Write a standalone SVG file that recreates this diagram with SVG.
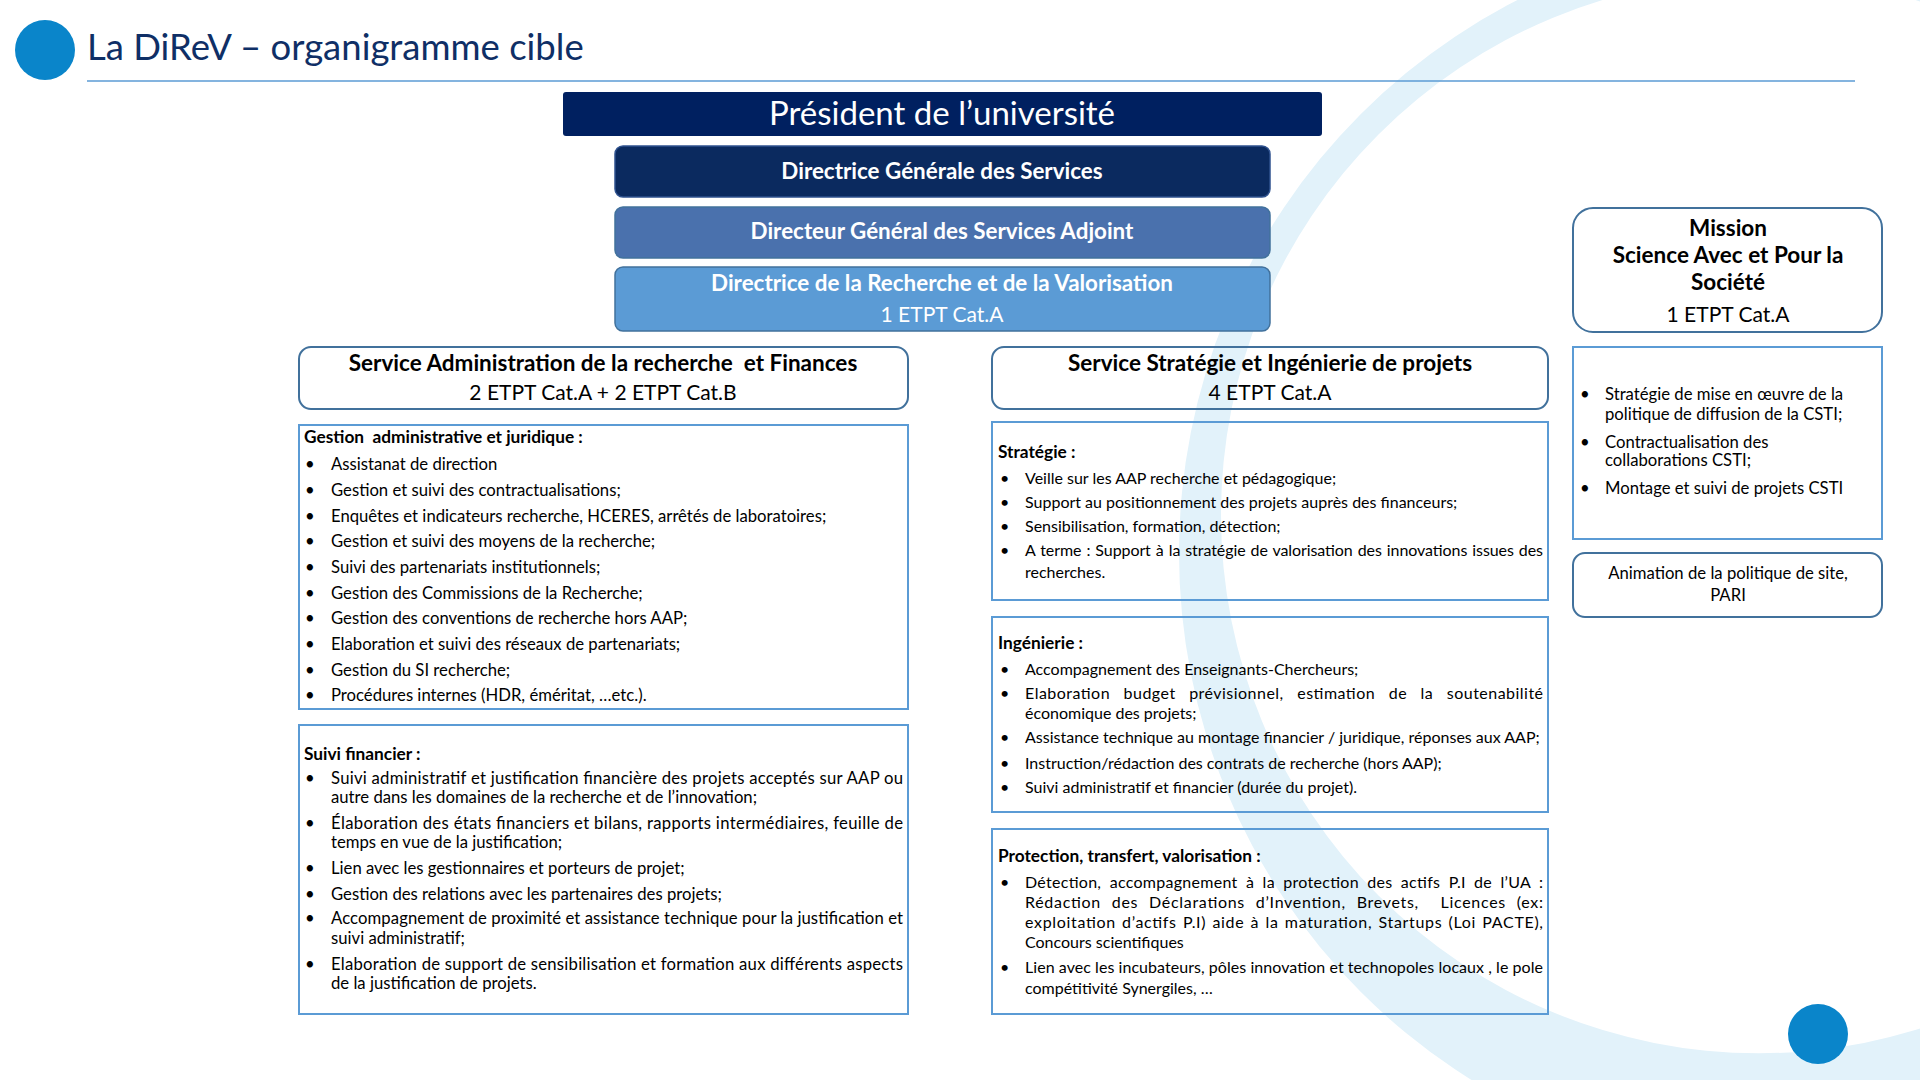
<svg xmlns="http://www.w3.org/2000/svg" width="1920" height="1080" viewBox="0 0 1920 1080">
<style>
text{font-family:Lato,"Liberation Sans",sans-serif;white-space:pre;}
.t{font-size:16.7px;fill:#000;}
.tm{font-size:16px;fill:#000;}
.bh{font-size:17.3px;font-weight:bold;fill:#000;}
.c{text-anchor:middle;}
.hw{font-size:22.4px;font-weight:bold;fill:#fff;text-anchor:middle;}
.hk{font-size:22.5px;font-weight:bold;fill:#000;text-anchor:middle;}
.rk{font-size:21px;fill:#000;text-anchor:middle;}
.box{fill:none;stroke:#5b9bd5;stroke-width:2;}
.rbox{fill:none;stroke:#41719c;stroke-width:2;}
</style>
<rect width="1920" height="1080" fill="#fff"/>
<g id="background">
<path fill="#e2f2fa" fill-rule="evenodd" d="M1179,553 a621,621 0 1,0 1242,0 a621,621 0 1,0 -1242,0 Z M1221,515 a538,538 0 1,0 1076,0 a538,538 0 1,0 -1076,0 Z"/>
<circle cx="1818" cy="1034" r="30" fill="#0a85ca"/>
</g>
<g id="title">
<circle cx="45" cy="50" r="30" fill="#0a85ca"/>
<text x="87" y="60" font-size="36.5" fill="#0f2f66">La DiReV – organigramme cible</text>
<line x1="87" y1="81" x2="1855" y2="81" stroke="#5b9bd5" stroke-width="1.5"/>
</g>
<g id="connectors"/>
<g id="president">
<rect x="563" y="92" width="759" height="44" rx="3" fill="#002060"/>
<text x="942" y="125" font-size="33" fill="#fff" text-anchor="middle">Président de l’université</text>
</g>
<g id="dgs">
<rect x="615" y="146" width="655" height="51" rx="8" fill="#0b2a5f" stroke="#2f528f" stroke-width="1.5"/>
<text x="942" y="179" class="hw">Directrice Générale des Services</text>
</g>
<g id="dgsa">
<rect x="615" y="207" width="655" height="51" rx="8" fill="#4a71ad" stroke="#41719c" stroke-width="1.5"/>
<text x="942" y="239" class="hw">Directeur Général des Services Adjoint</text>
</g>
<g id="drv">
<rect x="615" y="267" width="655" height="64" rx="8" fill="#5b9bd5" stroke="#41719c" stroke-width="1.5"/>
<text x="942" y="291" class="hw">Directrice de la Recherche et de la Valorisation</text>
<text x="942" y="322" font-size="21" fill="#fff" text-anchor="middle">1 ETPT Cat.A</text>
</g>
<g id="service-admin">
<rect x="299" y="347" width="609" height="62" rx="12" class="rbox"/>
<text x="603" y="371" class="hk">Service Administration de la recherche  et Finances</text>
<text x="603" y="400" class="rk">2 ETPT Cat.A + 2 ETPT Cat.B</text>
</g>
<g id="gestion">
<rect x="299" y="425" width="609" height="284" class="box"/>
<text x="304" y="443" class="bh">Gestion  administrative et juridique :</text>
<g class="t">
<text x="305" y="470">•</text><text x="331" y="470">Assistanat de direction</text>
<text x="305" y="496">•</text><text x="331" y="496">Gestion et suivi des contractualisations;</text>
<text x="305" y="522">•</text><text x="331" y="522">Enquêtes et indicateurs recherche, HCERES, arrêtés de laboratoires;</text>
<text x="305" y="547">•</text><text x="331" y="547">Gestion et suivi des moyens de la recherche;</text>
<text x="305" y="573">•</text><text x="331" y="573">Suivi des partenariats institutionnels;</text>
<text x="305" y="599">•</text><text x="331" y="599">Gestion des Commissions de la Recherche;</text>
<text x="305" y="624">•</text><text x="331" y="624">Gestion des conventions de recherche hors AAP;</text>
<text x="305" y="650">•</text><text x="331" y="650">Elaboration et suivi des réseaux de partenariats;</text>
<text x="305" y="676">•</text><text x="331" y="676">Gestion du SI recherche;</text>
<text x="305" y="701">•</text><text x="331" y="701">Procédures internes (HDR, éméritat, …etc.).</text>
</g>
</g>
<g id="suivi-financier">
<rect x="299" y="725" width="609" height="289" class="box"/>
<text x="304" y="760" class="bh">Suivi financier :</text>
<g class="t">
<text x="305" y="784">•</text><text x="331" y="784" textLength="572" lengthAdjust="spacing">Suivi administratif et justification financière des projets acceptés sur AAP ou</text>
<text x="331" y="803">autre dans les domaines de la recherche et de l’innovation;</text>
<text x="305" y="829">•</text><text x="331" y="829" textLength="572" lengthAdjust="spacing">Élaboration des états financiers et bilans, rapports intermédiaires, feuille de</text>
<text x="331" y="848">temps en vue de la justification;</text>
<text x="305" y="874">•</text><text x="331" y="874">Lien avec les gestionnaires et porteurs de projet;</text>
<text x="305" y="900">•</text><text x="331" y="900">Gestion des relations avec les partenaires des projets;</text>
<text x="305" y="924">•</text><text x="331" y="924" textLength="572" lengthAdjust="spacing">Accompagnement de proximité et assistance technique pour la justification et</text>
<text x="331" y="944">suivi administratif;</text>
<text x="305" y="970">•</text><text x="331" y="970" textLength="572" lengthAdjust="spacing">Elaboration de support de sensibilisation et formation aux différents aspects</text>
<text x="331" y="989">de la justification de projets.</text>
</g>
</g>
<g id="service-strategie">
<rect x="992" y="347" width="556" height="62" rx="12" class="rbox"/>
<text x="1270" y="371" class="hk">Service Stratégie et Ingénierie de projets</text>
<text x="1270" y="400" class="rk">4 ETPT Cat.A</text>
</g>
<g id="strategie">
<rect x="992" y="422" width="556" height="178" class="box"/>
<text x="998" y="458" class="bh">Stratégie :</text>
<g class="tm">
<text x="1000" y="484">•</text><text x="1025" y="484">Veille sur les AAP recherche et pédagogique;</text>
<text x="1000" y="508">•</text><text x="1025" y="508">Support au positionnement des projets auprès des financeurs;</text>
<text x="1000" y="532">•</text><text x="1025" y="532">Sensibilisation, formation, détection;</text>
<text x="1000" y="556">•</text><text x="1025" y="556" textLength="518" lengthAdjust="spacing" word-spacing="1">A terme : Support à la stratégie de valorisation des innovations issues des</text>
<text x="1025" y="578">recherches.</text>
</g>
</g>
<g id="ingenierie">
<rect x="992" y="617" width="556" height="195" class="box"/>
<text x="998" y="649" class="bh">Ingénierie :</text>
<g class="tm">
<text x="1000" y="675">•</text><text x="1025" y="675">Accompagnement des Enseignants-Chercheurs;</text>
<text x="1000" y="699">•</text><text x="1025" y="699" textLength="518" lengthAdjust="spacing" word-spacing="9">Elaboration budget prévisionnel, estimation de la soutenabilité</text>
<text x="1025" y="719">économique des projets;</text>
<text x="1000" y="743">•</text><text x="1025" y="743">Assistance technique au montage financier / juridique, réponses aux AAP;</text>
<text x="1000" y="769">•</text><text x="1025" y="769">Instruction/rédaction des contrats de recherche (hors AAP);</text>
<text x="1000" y="793">•</text><text x="1025" y="793">Suivi administratif et financier (durée du projet).</text>
</g>
</g>
<g id="protection">
<rect x="992" y="829" width="556" height="185" class="box"/>
<text x="998" y="862" class="bh">Protection, transfert, valorisation :</text>
<g class="tm">
<text x="1000" y="888">•</text><text x="1025" y="888" textLength="518" lengthAdjust="spacing" word-spacing="4">Détection, accompagnement à la protection des actifs P.I de l’UA :</text>
<text x="1025" y="908" textLength="518" lengthAdjust="spacing" word-spacing="6">Rédaction des Déclarations d’Invention, Brevets,  Licences (ex:</text>
<text x="1025" y="928" textLength="518" lengthAdjust="spacing" word-spacing="1.5">exploitation d’actifs P.I) aide à la maturation, Startups (Loi PACTE),</text>
<text x="1025" y="948">Concours scientifiques</text>
<text x="1000" y="973">•</text><text x="1025" y="973" textLength="518" lengthAdjust="spacing">Lien avec les incubateurs, pôles innovation et technopoles locaux , le pole</text>
<text x="1025" y="994">compétitivité Synergiles, …</text>
</g>
</g>
<g id="mission">
<rect x="1573" y="208" width="309" height="124" rx="20" fill="#fff" stroke="#41719c" stroke-width="2"/>
<text x="1728" y="236" class="hk">Mission</text>
<text x="1728" y="263" class="hk">Science Avec et Pour la</text>
<text x="1728" y="290" class="hk">Société</text>
<text x="1728" y="322" class="rk">1 ETPT Cat.A</text>
</g>
<g id="csti">
<rect x="1573" y="347" width="309" height="192" fill="#fff" class="box"/>
<g class="t">
<text x="1580" y="400">•</text><text x="1605" y="400">Stratégie de mise en œuvre de la</text>
<text x="1605" y="420">politique de diffusion de la CSTI;</text>
<text x="1580" y="448">•</text><text x="1605" y="448">Contractualisation des</text>
<text x="1605" y="466">collaborations CSTI;</text>
<text x="1580" y="494">•</text><text x="1605" y="494">Montage et suivi de projets CSTI</text>
</g>
</g>
<g id="animation">
<rect x="1573" y="553" width="309" height="64" rx="12" fill="#fff" stroke="#41719c" stroke-width="2"/>
<text x="1728" y="579" class="t c">Animation de la politique de site,</text>
<text x="1728" y="601" class="t c">PARI</text>
</g>
</svg>
